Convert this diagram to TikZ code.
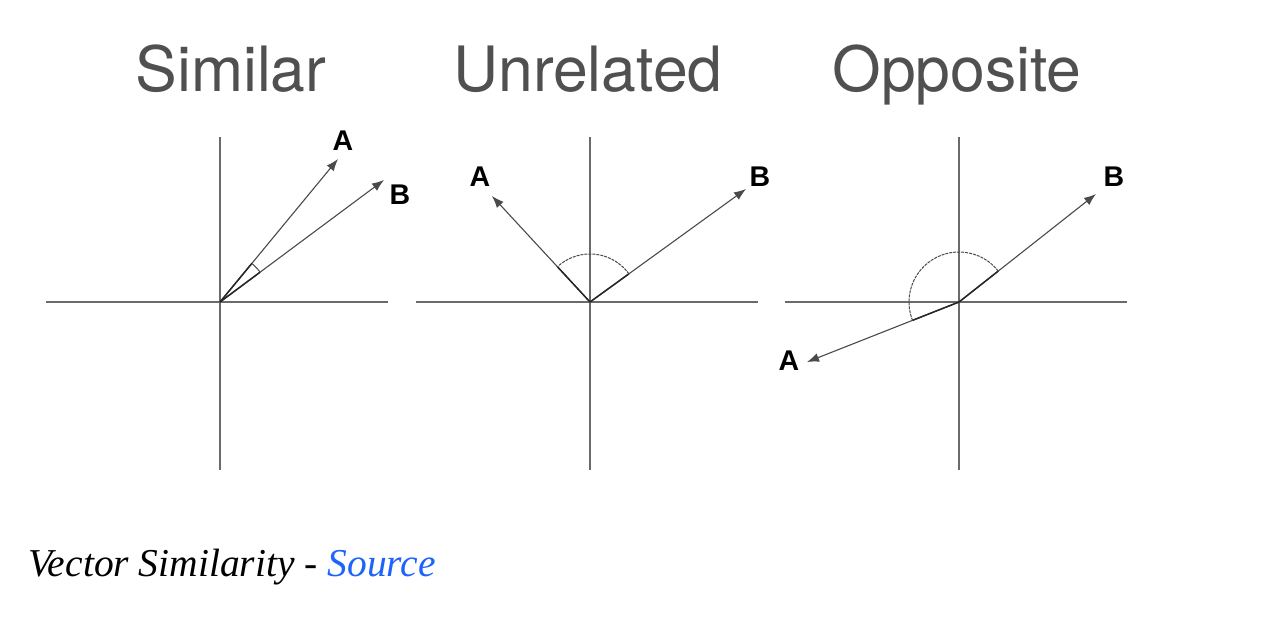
\documentclass[tikz,border=0pt]{standalone}
\usepackage{fontspec}
\setmainfont{Liberation Serif}
\newfontfamily\titlefont{TeX Gyre Heros}
\newfontfamily\lblfont{Liberation Sans}
\usetikzlibrary{arrows.meta,calc}
\definecolor{axisgray}{HTML}{6A6A6A}
\definecolor{vecgray}{HTML}{4A4A4A}
\definecolor{titlegray}{HTML}{505050}
\definecolor{linkblue}{RGB}{30,100,250}
\begin{document}
\begin{tikzpicture}[x=1pt,y=1pt,
  axisline/.style={draw=axisgray,line width=1.3pt},
  vecline/.style={draw=vecgray,line width=1.1pt,-{Latex[length=12pt,width=9pt]}},
  innerseg/.style={draw=black!85,line width=1.5pt},
  anglearc/.style={draw=vecgray,line width=1pt},
  dasharc/.style={draw=vecgray,line width=1pt,dash pattern=on 3pt off 1pt},
  titletext/.style={font=\titlefont\fontsize{62.5}{70}\selectfont,text=titlegray,anchor=base,inner sep=0pt},
  vlabel/.style={font=\lblfont\bfseries\fontsize{28.5}{30}\selectfont,inner sep=0pt}]
\useasboundingbox[fill=white] (0,0) rectangle (1268,-626);

% titles
\node[titletext] (t1) at (231,-92) {Similar};
\node[titletext] (t2) at (588,-92) {Unrelated};
\node[titletext] (t3) at (957,-92) {Opposite};

% ---- panel 1: Similar
\coordinate (O1) at (220,-302);
\coordinate (h1l) at (46,-302);  \coordinate (h1r) at (388,-302);
\coordinate (v1t) at (220,-137); \coordinate (v1b) at (220,-470);
\draw[axisline] (h1l) -- (h1r);
\draw[axisline] (v1t) -- (v1b);
\coordinate (A1) at (338,-159);
\coordinate (B1) at (384,-180);
\draw[vecline] (O1) -- (A1);
\draw[vecline] (O1) -- (B1);
\draw[innerseg] (O1) -- ($(O1)!50pt!(A1)$);
\draw[innerseg] (O1) -- ($(O1)!50pt!(B1)$);
\draw[anglearc] ($(O1)+(36.6:50)$) arc[start angle=36.6,end angle=50.5,radius=50];
\node[vlabel] (la1) at (343,-141) {A};
\node[vlabel] (lb1) at (400,-195) {B};

% ---- panel 2: Unrelated
\coordinate (O2) at (590,-302);
\coordinate (h2l) at (416,-302);  \coordinate (h2r) at (758,-302);
\coordinate (v2t) at (590,-137); \coordinate (v2b) at (590,-470);
\draw[axisline] (h2l) -- (h2r);
\draw[axisline] (v2t) -- (v2b);
\coordinate (A2) at (492,-196);
\coordinate (B2) at (746,-189);
\draw[vecline] (O2) -- (A2);
\draw[vecline] (O2) -- (B2);
\draw[innerseg] (O2) -- ($(O2)!48pt!(A2)$);
\draw[innerseg] (O2) -- ($(O2)!48pt!(B2)$);
\draw[dasharc] ($(O2)+(35.8:48)$) arc[start angle=35.8,end angle=132.7,radius=48];
\node[vlabel] (la2) at (480,-177) {A};
\node[vlabel] (lb2) at (760,-177) {B};

% ---- panel 3: Opposite
\coordinate (O3) at (959,-302);
\coordinate (h3l) at (785,-302);  \coordinate (h3r) at (1127,-302);
\coordinate (v3t) at (959,-137); \coordinate (v3b) at (959,-470);
\draw[axisline] (h3l) -- (h3r);
\draw[axisline] (v3t) -- (v3b);
\coordinate (A3) at (807,-362);
\coordinate (B3) at (1096,-194);
\draw[vecline] (O3) -- (A3);
\draw[vecline] (O3) -- (B3);
\draw[innerseg] (O3) -- ($(O3)!50pt!(A3)$);
\draw[innerseg] (O3) -- ($(O3)!50pt!(B3)$);
\draw[dasharc] ($(O3)+(38.2:50)$) arc[start angle=38.2,end angle=201.7,radius=50];
\node[vlabel] (la3) at (789,-361) {A};
\node[vlabel] (lb3) at (1114,-177) {B};

% caption
\node[anchor=base west,inner sep=0pt,font=\fontsize{39.5}{44}\selectfont\itshape] (cap) at (28,-576)
  {Vector Similarity - \textcolor{linkblue}{Source}};
\end{tikzpicture}
\end{document}
